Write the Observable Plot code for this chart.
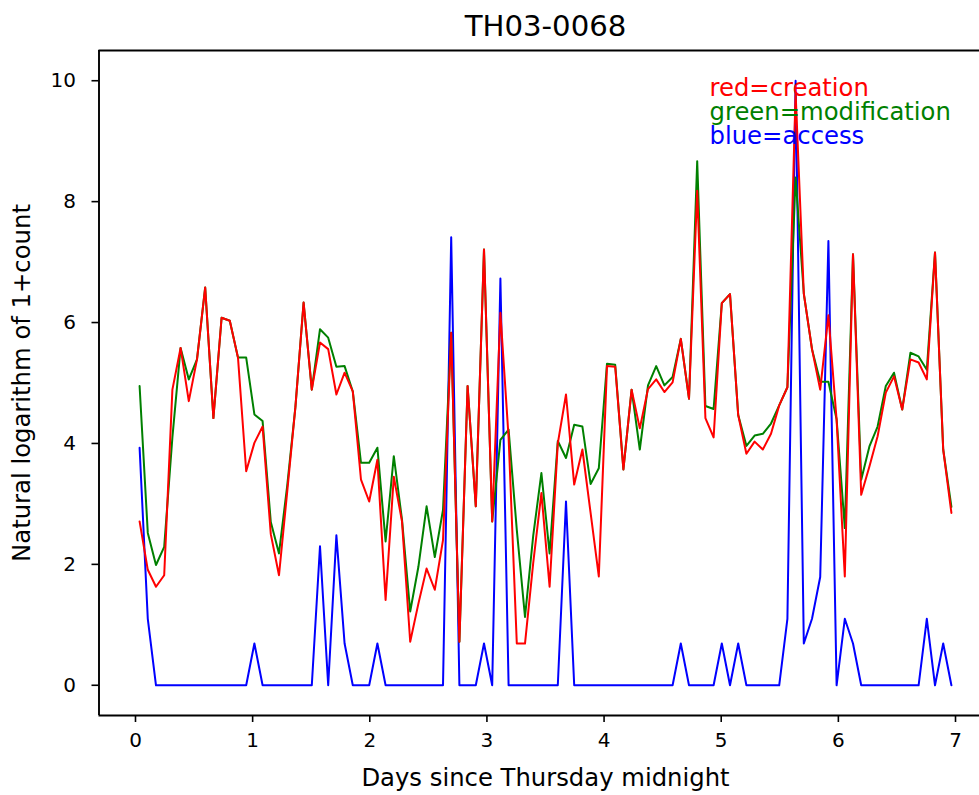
<!DOCTYPE html>
<html><head><meta charset="utf-8">
<script src="https://cdn.jsdelivr.net/npm/d3@7"></script>
<script src="https://cdn.jsdelivr.net/npm/@observablehq/plot@0.6"></script>
<style>
html,body{margin:0;padding:0;background:#fff;}
#chart svg{display:block;}
</style></head><body><div id="chart"></div>
<script>
// Bins of 0.07 day (100 bins over the week), value = ln(1+count)
const creation = [
 2.71,1.91,1.63,1.82,4.89,5.58,4.70,5.39,6.58,4.42,
 6.08,6.03,5.42,3.54,4.01,4.28,2.50,1.82,3.20,4.60,
 6.33,4.89,5.67,5.56,4.81,5.17,4.86,3.40,3.04,3.73,
 1.41,3.45,2.71,0.72,1.35,1.93,1.58,2.40,5.83,0.72,
 4.95,2.96,7.21,2.71,6.16,4.10,0.69,0.69,2.02,3.18,
 1.63,4.00,4.81,3.32,3.90,2.85,1.80,5.28,5.27,3.57,
 4.89,4.25,4.90,5.06,4.85,5.01,5.73,4.74,8.18,4.42,
 4.10,6.32,6.47,4.47,3.83,4.03,3.90,4.16,4.63,4.93,
 9.80,6.48,5.56,4.89,6.12,4.39,1.80,7.13,3.15,3.62,
 4.12,4.84,5.11,4.56,5.39,5.34,5.06,7.16,3.90,2.85];
const modification = [
 4.95,2.52,1.99,2.29,4.10,5.58,5.06,5.39,6.58,4.42,
 6.08,6.03,5.42,5.42,4.48,4.37,2.70,2.18,3.30,4.60,
 6.33,4.89,5.89,5.75,5.27,5.28,4.86,3.68,3.68,3.93,
 2.38,3.79,2.74,1.22,1.96,2.96,2.12,2.90,5.83,0.72,
 4.95,2.96,7.21,2.71,4.06,4.23,2.57,1.13,2.47,3.51,
 2.18,4.04,3.76,4.31,4.28,3.33,3.59,5.32,5.30,3.57,
 4.89,3.90,4.96,5.28,4.96,5.10,5.73,4.74,8.67,4.62,
 4.57,6.32,6.47,4.47,3.96,4.13,4.16,4.33,4.63,4.93,
 8.40,6.48,5.56,5.02,5.02,4.40,2.60,7.13,3.40,3.95,
 4.28,4.95,5.17,4.56,5.50,5.44,5.22,7.16,3.90,2.95];
const access = [
 3.93,1.10,0,0,0,0,0,0,0,0,
 0,0,0,0,0.69,0,0,0,0,0,
 0,0,2.30,0,2.48,0.69,0,0,0,0.69,
 0,0,0,0,0,0,0,0,7.41,0,
 0,0,0.69,0,6.73,0,0,0,0,0,
 0,0,3.04,0,0,0,0,0,0,0,
 0,0,0,0,0,0,0.69,0,0,0,
 0,0.69,0,0.69,0,0,0,0,0,1.10,
 10.0,0.69,1.10,1.79,7.35,0,1.10,0.69,0,0,
 0,0,0,0,0,0,1.10,0,0.69,0];
const binWidth = 0.07;
const xTicks = [0,1,2,3,4,5,6,7];
const yTicks = [0,2,4,6,8,10];
const titleText = "TH03-0068";
const xLabel = "Days since Thursday midnight";
const yLabel = "Natural logarithm of 1+count";
const legendLabels = ["red=creation","green=modification","blue=access"];
const legendColors = ["#ff0000","#008000","#0000ff"];

const days = creation.map((_, i) => (i + 0.5) * binWidth);
const mk = arr => arr.map((v, i) => ({day: days[i], value: v}));

const xDom = [-0.3115, 7.3115];
const yDom = [-0.5, 10.5];
const FS = 24.3;
const TFS = 20;

const chart = Plot.plot({
  width: 979,
  height: 795,
  marginLeft: 98.5,
  marginRight: 0,
  marginTop: 50,
  marginBottom: 80,
  style: {fontFamily: "DejaVu Sans", fontSize: FS + "px", background: "#fff", color: "#000"},
  x: {domain: xDom, range: [98.5, 991.5]},
  y: {domain: yDom},
  marks: [
    Plot.line(mk(access), {x: "day", y: "value", stroke: "#0000ff", strokeWidth: 2}),
    Plot.line(mk(modification), {x: "day", y: "value", stroke: "#008000", strokeWidth: 2}),
    Plot.line(mk(creation), {x: "day", y: "value", stroke: "#ff0000", strokeWidth: 2}),
    Plot.ruleX(xDom, {y1: yDom[0], y2: yDom[1], stroke: "#000", strokeWidth: 1.9}),
    Plot.ruleY(yDom, {x1: xDom[0], x2: xDom[1], stroke: "#000", strokeWidth: 1.9}),
    Plot.axisX(xTicks, {tickSize: 7, tickPadding: 10, fontSize: TFS, strokeWidth: 1.6, tickFormat: d => String(d), label: null}),
    Plot.axisY(yTicks, {tickSize: 7, tickPadding: 16, fontSize: TFS, strokeWidth: 1.6, tickFormat: d => String(d), label: null}),
    Plot.text(legendLabels, {
      x: () => 4.9, y: (d, i) => [9.75, 9.35, 8.95][i], text: d => d,
      fill: (d, i) => legendColors[i], textAnchor: "start", lineAnchor: "bottom", fontSize: FS
    }),
    Plot.text([titleText], {x: () => 3.5, y: () => yDom[1], text: d => d, dy: -14.6, lineAnchor: "bottom", fontSize: 29.2}),
    Plot.text([xLabel], {x: () => 3.5, y: () => yDom[0], text: d => d, dy: 70, lineAnchor: "bottom", fontSize: FS}),
    Plot.text([yLabel], {x: () => xDom[0], y: () => 5, text: d => d, dx: -69.5, rotate: -90, lineAnchor: "bottom", fontSize: FS})
  ]
});
document.getElementById("chart").appendChild(chart);
</script></body></html>
